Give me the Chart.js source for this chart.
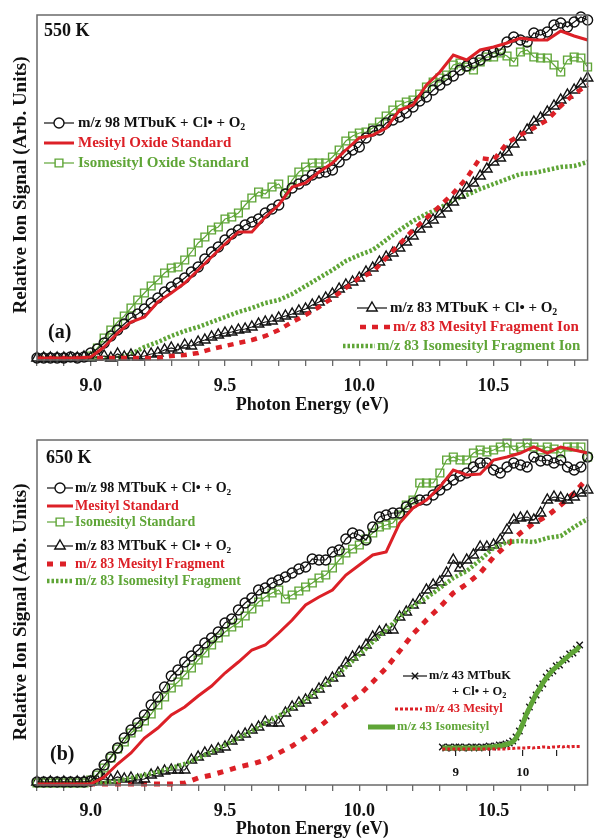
<!DOCTYPE html>
<html>
<head>
<meta charset="utf-8">
<script src="https://cdn.jsdelivr.net/npm/chart.js@4.4.1/dist/chart.umd.min.js"></script>
<style>
html, body { margin: 0; padding: 0; background: #fff; }
#page { position: relative; width: 595px; height: 840px; overflow: hidden; background: #fff; }
#page canvas { position: absolute; }
</style>
</head>
<body>
<div id="page">
  <canvas id="chartA" width="595" height="420" style="left:0;top:0;width:595px;height:420px"></canvas>
  <canvas id="chartB" width="595" height="420" style="left:0;top:420px;width:595px;height:420px"></canvas>
  <canvas id="chartInset" width="235" height="190" style="left:360px;top:600px;width:235px;height:190px"></canvas>
</div>
<script>
// ============================================================
//  DATA  (photon energy in eV, signal in arb. units)
// ============================================================
const energyFine = [
    8.800, 8.825, 8.850, 8.875, 8.900, 8.925, 8.950, 8.975,
    9.000, 9.025, 9.050, 9.075, 9.100, 9.125, 9.150, 9.175,
    9.200, 9.225, 9.250, 9.275, 9.300, 9.325, 9.350, 9.375,
    9.400, 9.425, 9.450, 9.475, 9.500, 9.525, 9.550, 9.575,
    9.600, 9.625, 9.650, 9.675, 9.700, 9.725, 9.750, 9.775,
    9.800, 9.825, 9.850, 9.875, 9.900, 9.925, 9.950, 9.975,
    10.000, 10.025, 10.050, 10.075, 10.100, 10.125, 10.150, 10.175,
    10.200, 10.225, 10.250, 10.275, 10.300, 10.325, 10.350, 10.375,
    10.400, 10.425, 10.450, 10.475, 10.500, 10.525, 10.550, 10.575,
    10.600, 10.625, 10.650, 10.675, 10.700, 10.725, 10.750, 10.775,
    10.800, 10.825, 10.850
];
const energyCoarse = [
    8.80, 8.85, 8.90, 8.95, 9.00, 9.05, 9.10, 9.15,
    9.20, 9.25, 9.30, 9.35, 9.40, 9.45, 9.50, 9.55,
    9.60, 9.65, 9.70, 9.75, 9.80, 9.85, 9.90, 9.95,
    10.00, 10.05, 10.10, 10.15, 10.20, 10.25, 10.30, 10.35,
    10.40, 10.45, 10.50, 10.55, 10.60, 10.65, 10.70, 10.75,
    10.80, 10.85
];

// --- (a) 550 K ---
const a98Mtbuk = [
    0.02, 0.02, 0.02, 0.02, 0.02, 0.03, 0.02, 0.03,
    0.07, 0.11, 0.17, 0.24, 0.30, 0.36, 0.42, 0.46,
    0.51, 0.57, 0.62, 0.68, 0.73, 0.77, 0.82, 0.88,
    0.93, 1.01, 1.08, 1.13, 1.20, 1.26, 1.30, 1.35,
    1.38, 1.41, 1.47, 1.51, 1.55, 1.66, 1.72, 1.76,
    1.80, 1.85, 1.87, 1.88, 1.90, 1.98, 2.05, 2.10,
    2.13, 2.22, 2.29, 2.30, 2.37, 2.40, 2.43, 2.47,
    2.53, 2.59, 2.63, 2.70, 2.75, 2.80, 2.84, 2.90,
    2.94, 2.97, 3.00, 3.05, 3.08, 3.10, 3.18, 3.23,
    3.20, 3.18, 3.27, 3.25, 3.28, 3.35, 3.37, 3.33,
    3.38, 3.43, 3.40
];
const aIsomesitylOxide = [
    null, null, null, null, null, null, null, null,
    0.04, 0.12, 0.22, 0.30, 0.38, 0.44, 0.52, 0.60,
    0.67, 0.74, 0.80, 0.87, 0.92, 0.93, 1.00, 1.08,
    1.17, 1.23, 1.30, 1.33, 1.41, 1.43, 1.47, 1.55,
    1.62, 1.68, 1.66, 1.73, 1.76, 1.67, 1.80, 1.88,
    1.93, 1.97, 1.97, 1.97, 2.03, 2.10, 2.19, 2.24,
    2.27, 2.28, 2.32, 2.38, 2.44, 2.50, 2.55, 2.58,
    2.60, 2.66, 2.73, 2.78, 2.82, 2.85, 2.95, 2.97,
    2.93, 2.90, 2.98, 3.03, 3.03, 3.07, 3.04, 2.98,
    3.08, 3.10, 3.03, 3.02, 3.02, 2.95, 2.88, 3.00,
    3.03, 3.02, 2.93
];
const a83Mtbuk = [
    0.02, 0.02, 0.02, 0.02, 0.02, 0.02, 0.02, 0.03,
    0.02, 0.03, 0.04, 0.02, 0.06, 0.03, 0.05, 0.03,
    0.04, 0.06, 0.07, 0.10, 0.12, 0.10, 0.15, 0.14,
    0.18, 0.20, 0.23, 0.25, 0.27, 0.28, 0.30, 0.31,
    0.33, 0.36, 0.38, 0.39, 0.42, 0.44, 0.46, 0.49,
    0.51, 0.55, 0.58, 0.62, 0.66, 0.71, 0.75, 0.78,
    0.82, 0.88, 0.92, 0.98, 1.03, 1.07, 1.12, 1.18,
    1.24, 1.31, 1.36, 1.40, 1.46, 1.52, 1.58, 1.65,
    1.72, 1.77, 1.84, 1.91, 1.98, 2.02, 2.08, 2.16,
    2.23, 2.30, 2.38, 2.42, 2.48, 2.54, 2.60, 2.65,
    2.70, 2.76, 2.82
];
const aMesitylOxide = [
    0.02, 0.02, 0.02, 0.02, 0.03, 0.13, 0.27, 0.38,
    0.43, 0.58, 0.67, 0.77, 0.90, 1.03, 1.16, 1.28,
    1.28, 1.43, 1.55, 1.73, 1.77, 1.88, 1.97, 2.10,
    2.22, 2.25, 2.32, 2.50, 2.55, 2.75, 2.88, 3.05,
    3.00, 3.10, 3.13, 3.17, 3.22, 3.20, 3.20, 3.29,
    3.24, 3.20
];
const a83Mesityl = [
    0.02, 0.02, 0.02, 0.02, 0.02, 0.02, 0.02, 0.02,
    0.02, 0.02, 0.04, 0.05, 0.07, 0.11, 0.14, 0.17,
    0.20, 0.24, 0.30, 0.38, 0.45, 0.53, 0.62, 0.72,
    0.82, 0.88, 1.02, 1.16, 1.30, 1.42, 1.54, 1.67,
    1.82, 2.02, 2.00, 2.17, 2.25, 2.32, 2.40, 2.54,
    2.66, 2.75
];
const a83Isomesityl = [
    0.02, 0.02, 0.02, 0.02, 0.02, 0.02, 0.02, 0.06,
    0.13, 0.18, 0.24, 0.29, 0.33, 0.38, 0.43, 0.48,
    0.52, 0.57, 0.60, 0.66, 0.74, 0.82, 0.90, 0.99,
    1.05, 1.10, 1.20, 1.30, 1.39, 1.46, 1.52, 1.60,
    1.65, 1.71, 1.76, 1.81, 1.86, 1.87, 1.90, 1.93,
    1.94, 1.98
];

// --- (b) 650 K ---
const b98Mtbuk = [
    0.03, 0.03, 0.03, 0.03, 0.03, 0.03, 0.03, 0.03,
    0.04, 0.11, 0.20, 0.28, 0.37, 0.47, 0.55, 0.62,
    0.70, 0.80, 0.88, 0.98, 1.09, 1.15, 1.23, 1.29,
    1.35, 1.42, 1.47, 1.53, 1.62, 1.66, 1.75, 1.82,
    1.87, 1.95, 1.97, 2.02, 2.05, 2.08, 2.12, 2.16,
    2.18, 2.26, 2.25, 2.25, 2.33, 2.35, 2.46, 2.52,
    2.50, 2.45, 2.58, 2.68, 2.70, 2.72, 2.72, 2.78,
    2.82, 2.85, 2.85, 2.90, 2.95, 3.00, 3.05, 3.09,
    3.12, 3.18, 3.22, 3.22, 3.15, 3.12, 3.18, 3.22,
    3.20, 3.18, 3.28, 3.24, 3.25, 3.22, 3.25, 3.18,
    3.15, 3.18, 3.28
];
const bIsomesityl = [
    0.02, 0.02, 0.02, 0.02, 0.02, 0.02, 0.02, 0.02,
    0.05, 0.10, 0.17, 0.27, 0.36, 0.43, 0.52, 0.58,
    0.64, 0.71, 0.80, 0.88, 0.97, 1.03, 1.10, 1.17,
    1.25, 1.32, 1.40, 1.47, 1.53, 1.58, 1.62, 1.69,
    1.76, 1.83, 1.88, 1.92, 1.95, 1.86, 1.90, 1.94,
    1.98, 2.02, 2.07, 2.10, 2.17, 2.25, 2.32, 2.36,
    2.40, 2.46, 2.52, 2.58, 2.60, 2.62, 2.70, 2.80,
    2.85, 3.02, 3.02, 3.02, 3.12, 3.25, 3.28, 3.25,
    3.25, 3.32, 3.35, 3.33, 3.35, 3.38, 3.42, 3.35,
    3.38, 3.42, 3.38, 3.35, 3.38, 3.36, 3.32, 3.38,
    3.38, 3.38, 3.28
];
const b83Mtbuk = [
    0.03, 0.02, 0.03, 0.02, 0.03, 0.02, 0.03, 0.03,
    0.03, 0.04, 0.06, 0.05, 0.08, 0.06, 0.07, 0.05,
    0.06, 0.10, 0.12, 0.14, 0.15, 0.15, 0.15, 0.25,
    0.28, 0.32, 0.34, 0.36, 0.38, 0.44, 0.48, 0.51,
    0.55, 0.58, 0.63, 0.62, 0.62, 0.72, 0.78, 0.82,
    0.85, 0.90, 0.96, 1.02, 1.07, 1.12, 1.22, 1.28,
    1.33, 1.40, 1.48, 1.53, 1.55, 1.55, 1.68, 1.73,
    1.80, 1.85, 1.95, 2.00, 2.03, 2.12, 2.25, 2.17,
    2.25, 2.30, 2.38, 2.38, 2.40, 2.45, 2.55, 2.65,
    2.67, 2.68, 2.65, 2.72, 2.85, 2.88, 2.87, 2.85,
    2.88, 2.92, 2.95
];
const bMesityl = [
    0.01, 0.01, 0.01, 0.01, 0.01, 0.08, 0.21, 0.32,
    0.47, 0.57, 0.70, 0.78, 0.89, 0.99, 1.12, 1.23,
    1.35, 1.40, 1.52, 1.65, 1.80, 1.88, 1.95, 2.10,
    2.20, 2.30, 2.33, 2.62, 2.77, 2.85, 2.98, 3.15,
    3.10, 3.11, 3.25, 3.28, 3.32, 3.38, 3.32, 3.38,
    3.35, 3.32
];
const b83Mesityl = [
    0.01, 0.01, 0.01, 0.01, 0.01, 0.01, 0.01, 0.01,
    0.01, 0.01, 0.01, 0.02, 0.07, 0.10, 0.14, 0.18,
    0.21, 0.25, 0.32, 0.39, 0.48, 0.58, 0.69, 0.80,
    0.90, 1.03, 1.17, 1.34, 1.51, 1.65, 1.78, 1.92,
    2.01, 2.12, 2.28, 2.40, 2.52, 2.62, 2.69, 2.80,
    2.92, 3.07
];
const b83Isomesityl = [
    0.02, 0.02, 0.02, 0.02, 0.02, 0.02, 0.04, 0.07,
    0.10, 0.13, 0.17, 0.21, 0.27, 0.33, 0.40, 0.47,
    0.54, 0.62, 0.69, 0.77, 0.85, 0.95, 1.06, 1.18,
    1.30, 1.43, 1.55, 1.68, 1.79, 1.87, 1.97, 2.07,
    2.14, 2.25, 2.37, 2.43, 2.44, 2.43, 2.47, 2.49,
    2.58, 2.66
];

// --- inset, m/z 43 at 650 K ---
const inset43Mtbuk = [
    0.03, 0.02, 0.03, 0.02, 0.03, 0.03, 0.02, 0.03,
    0.02, 0.03, 0.03, 0.02, 0.03, 0.03, 0.04, 0.03,
    0.04, 0.05, 0.05, 0.06, 0.07, 0.09, 0.13, 0.19,
    0.27, 0.34, 0.43, 0.50, 0.55, 0.62, 0.66, 0.73,
    0.77, 0.79, 0.84, 0.85, 0.90, 0.91, 0.96, 0.97,
    1.01, 1.05
];
const inset43Mesityl = [
    0.01, 0.01, 0.01, 0.01, 0.01, 0.01, 0.01, 0.01,
    0.01, 0.01, 0.01, 0.01, 0.01, 0.01, 0.01, 0.01,
    0.01, 0.01, 0.01, 0.01, 0.015, 0.015, 0.02, 0.02,
    0.02, 0.02, 0.025, 0.02, 0.025, 0.025, 0.03, 0.03,
    0.025, 0.03, 0.03, 0.035, 0.03, 0.04, 0.03, 0.035,
    0.035, 0.035
];
const inset43Isomesityl = [
    0.02, 0.02, 0.02, 0.02, 0.02, 0.02, 0.02, 0.02,
    0.02, 0.02, 0.02, 0.02, 0.02, 0.025, 0.03, 0.03,
    0.035, 0.04, 0.045, 0.055, 0.065, 0.08, 0.12, 0.18,
    0.26, 0.35, 0.42, 0.49, 0.56, 0.61, 0.67, 0.72,
    0.76, 0.80, 0.83, 0.86, 0.89, 0.92, 0.95, 0.98,
    1.00, 1.04
];

// ============================================================
//  STYLE
// ============================================================
const FONT  = '"Liberation Serif", "Times New Roman", serif';
const RED   = '#dc2027';
const GREEN = '#5fa537';
const BLACK = '#111111';
const FRAME = '#6a6a6a';

Chart.defaults.font.family = FONT;

function pts(xs, ys) {
    return xs.map(function (x, i) { return { x: x, y: ys[i] }; });
}

function markerSet(label, xs, ys, color, style, radius) {
    return {
        label: label, data: pts(xs, ys),
        borderColor: color, backgroundColor: 'rgba(0,0,0,0)', borderWidth: 1.2,
        pointStyle: style, pointRadius: radius, pointBorderColor: color,
        pointBorderWidth: 1.4, pointBackgroundColor: 'rgba(0,0,0,0)',
        tension: 0, clip: 8
    };
}

function lineSet(label, xs, ys, color, width, dash) {
    return {
        label: label, data: pts(xs, ys),
        borderColor: color, backgroundColor: color, borderWidth: width, borderDash: dash || [],
        borderCapStyle: 'butt', pointRadius: 0, tension: 0, clip: 8
    };
}

// ---------- drawing helpers for the decorations ----------
function drawRich(ctx, parts, x, y, size, color) {
    ctx.fillStyle = color;
    ctx.textAlign = 'left';
    ctx.textBaseline = 'middle';
    let cx = x;
    parts.forEach(function (p) {
        const sub = p.charAt(0) === '_';
        const t   = sub ? p.slice(1) : p;
        const fs  = sub ? size * 0.66 : size;
        ctx.font = 'bold ' + fs + 'px ' + FONT;
        ctx.fillText(t, cx, sub ? y + size * 0.3 : y);
        cx += ctx.measureText(t).width;
    });
}

function drawSample(ctx, ds, x1, x2, y) {
    ctx.save();
    ctx.strokeStyle = ds.borderColor;
    ctx.lineWidth   = ds.borderWidth;
    ctx.lineCap     = 'butt';
    ctx.setLineDash(ds.borderDash || []);
    ctx.beginPath(); ctx.moveTo(x1, y); ctx.lineTo(x2, y); ctx.stroke();
    ctx.setLineDash([]);
    if (ds.pointRadius) {
        ctx.fillStyle   = '#ffffff';
        ctx.strokeStyle = ds.pointBorderColor;
        ctx.lineWidth   = ds.pointBorderWidth;
        Chart.helpers.drawPoint(ctx, {
            pointStyle: ds.pointStyle, radius: ds.pointRadius,
            borderWidth: ds.pointBorderWidth, rotation: 0
        }, (x1 + x2) / 2, y);
    }
    ctx.restore();
}

function drawLegend(chart, rows, size) {
    const ctx = chart.ctx;
    rows.forEach(function (r) {
        if (r.ds) {
            const ds = chart.data.datasets.find(function (d) { return d.label === r.ds; });
            drawSample(ctx, ds, r.x1, r.x2, r.y);
        }
        drawRich(ctx, r.parts, r.tx, r.y, size, r.color);
    });
}

function panelDecor(cfg) {
    return {
        id: 'panelDecor',
        afterDraw: function (chart) {
            const ctx = chart.ctx;
            const a   = chart.chartArea;
            ctx.save();
            // frame
            ctx.strokeStyle = FRAME;
            ctx.lineWidth = 1.5;
            ctx.strokeRect(a.left, a.top, a.right - a.left, a.bottom - a.top);
            // y title
            ctx.save();
            ctx.translate(cfg.yTitle[0], cfg.yTitle[1]);
            ctx.rotate(-Math.PI / 2);
            ctx.fillStyle = BLACK;
            ctx.font = 'bold 19px ' + FONT;
            ctx.textAlign = 'center';
            ctx.textBaseline = 'middle';
            ctx.fillText('Relative Ion Signal (Arb. Units)', 0, 0);
            ctx.restore();
            // temperature and panel letter
            drawRich(ctx, [cfg.temp], cfg.tempPos[0], cfg.tempPos[1], 18, BLACK);
            drawRich(ctx, [cfg.letter], cfg.letterPos[0], cfg.letterPos[1], 20, BLACK);
            drawLegend(chart, cfg.legend, cfg.legendSize);
            ctx.restore();
        }
    };
}

function mainScales(xHeight, labelPad, titlePad) {
    return {
        x: {
            type: 'linear', min: 8.8, max: 10.85,
            border: { display: false },
            grid: { drawOnChartArea: false, drawTicks: true, tickLength: 6, color: FRAME, lineWidth: 1.3 },
            ticks: {
                stepSize: 0.1, includeBounds: false, autoSkip: false, maxRotation: 0,
                padding: labelPad, color: BLACK,
                font: { family: FONT, size: 18, weight: 'bold' },
                callback: function (v) { return Math.abs(v * 2 - Math.round(v * 2)) < 1e-6 ? v.toFixed(1) : ''; }
            },
            title: {
                display: true, text: 'Photon Energy (eV)', color: BLACK,
                font: { family: FONT, size: 18, weight: 'bold' },
                padding: { top: 0, bottom: titlePad }
            },
            afterFit: function (s) { s.height = xHeight; }
        },
        y: { display: false, min: 0, max: 3.45 }
    };
}

function baseOptions(pad, scales) {
    return {
        responsive: false, animation: false, devicePixelRatio: 1, events: [],
        layout: { padding: pad },
        plugins: { legend: { display: false }, tooltip: { enabled: false } },
        scales: scales
    };
}

const SUB2 = '_2';

// ============================================================
//  PANEL (a)  550 K
// ============================================================
new Chart(document.getElementById('chartA'), {
    type: 'line',
    data: {
        datasets: [
            lineSet('Mesityl Oxide Standard', energyCoarse, aMesitylOxide, RED, 3),
            markerSet('m/z 98 MTbuK + Cl + O2', energyFine, a98Mtbuk, BLACK, 'circle', 5),
            markerSet('Isomesityl Oxide Standard', energyFine, aIsomesitylOxide, GREEN, 'rect', 5.5),
            lineSet('m/z 83 Mesityl Fragment Ion', energyCoarse, a83Mesityl, RED, 4.5, [6, 6]),
            markerSet('m/z 83 MTbuK + Cl + O2', energyFine, a83Mtbuk, BLACK, 'triangle', 6),
            lineSet('m/z 83 Isomesityl Fragment Ion', energyCoarse, a83Isomesityl, GREEN, 4.5, [2.5, 2])
        ]
    },
    options: baseOptions({ left: 37, right: 2, top: 15, bottom: 0 }, mainScales(60, 10, 4)),
    plugins: [panelDecor({
        yTitle: [21, 185], temp: '550 K', tempPos: [44, 31], letter: '(a)', letterPos: [48, 333],
        legendSize: 15,
        legend: [
            { ds: 'm/z 98 MTbuK + Cl + O2', x1: 44, x2: 74, y: 123, tx: 78, color: BLACK, parts: ['m/z 98 MTbuK + Cl• + O', SUB2] },
            { ds: 'Mesityl Oxide Standard', x1: 44, x2: 74, y: 143, tx: 78, color: RED, parts: ['Mesityl Oxide Standard'] },
            { ds: 'Isomesityl Oxide Standard', x1: 44, x2: 74, y: 163, tx: 78, color: GREEN, parts: ['Isomesityl Oxide Standard'] },
            { ds: 'm/z 83 MTbuK + Cl + O2', x1: 357, x2: 387, y: 308, tx: 390, color: BLACK, parts: ['m/z 83 MTbuK + Cl• + O', SUB2] },
            { ds: 'm/z 83 Mesityl Fragment Ion', x1: 360, x2: 390, y: 327, tx: 393, color: RED, parts: ['m/z 83 Mesityl Fragment Ion'] },
            { ds: 'm/z 83 Isomesityl Fragment Ion', x1: 343, x2: 375, y: 346, tx: 377, color: GREEN, parts: ['m/z 83 Isomesityl Fragment Ion'] }
        ]
    })]
});

// ============================================================
//  PANEL (b)  650 K
// ============================================================
new Chart(document.getElementById('chartB'), {
    type: 'line',
    data: {
        datasets: [
            lineSet('Mesityl Standard', energyCoarse, bMesityl, RED, 3),
            markerSet('m/z 98 MTbuK + Cl + O2', energyFine, b98Mtbuk, BLACK, 'circle', 5),
            markerSet('Isomesityl Standard', energyFine, bIsomesityl, GREEN, 'rect', 5.5),
            lineSet('m/z 83 Isomesityl Fragment', energyCoarse, b83Isomesityl, GREEN, 4.5, [2.5, 2]),
            markerSet('m/z 83 MTbuK + Cl + O2', energyFine, b83Mtbuk, BLACK, 'triangle', 6),
            lineSet('m/z 83 Mesityl Fragment', energyCoarse, b83Mesityl, RED, 5, [6, 7])
        ]
    },
    options: baseOptions({ left: 37, right: 2, top: 20, bottom: 0 }, mainScales(55, 10, 0)),
    plugins: [panelDecor({
        yTitle: [21, 192], temp: '650 K', tempPos: [46, 38], letter: '(b)', letterPos: [50, 335],
        legendSize: 14,
        legend: [
            { ds: 'm/z 98 MTbuK + Cl + O2', x1: 47, x2: 73, y: 68, tx: 75, color: BLACK, parts: ['m/z 98 MTbuK + Cl• + O', SUB2] },
            { ds: 'Mesityl Standard', x1: 47, x2: 73, y: 86, tx: 75, color: RED, parts: ['Mesityl Standard'] },
            { ds: 'Isomesityl Standard', x1: 47, x2: 73, y: 102, tx: 75, color: GREEN, parts: ['Isomesityl Standard'] },
            { ds: 'm/z 83 MTbuK + Cl + O2', x1: 47, x2: 73, y: 126, tx: 75, color: BLACK, parts: ['m/z 83 MTbuK + Cl• + O', SUB2] },
            { ds: 'm/z 83 Mesityl Fragment', x1: 47, x2: 73, y: 144, tx: 75, color: RED, parts: ['m/z 83 Mesityl Fragment'] },
            { ds: 'm/z 83 Isomesityl Fragment', x1: 47, x2: 73, y: 161, tx: 75, color: GREEN, parts: ['m/z 83 Isomesityl Fragment'] }
        ]
    })]
});

// ============================================================
//  INSET  m/z 43
// ============================================================
const insetMtbuk = markerSet('m/z 43 MTbuK + Cl + O2', energyCoarse, inset43Mtbuk, BLACK, 'crossRot', 4.5);
insetMtbuk.pointBorderWidth = 1.4;

new Chart(document.getElementById('chartInset'), {
    type: 'line',
    data: {
        datasets: [
            lineSet('m/z 43 Mesityl', energyCoarse, inset43Mesityl, RED, 3, [3, 2]),
            lineSet('m/z 43 Isomesityl', energyCoarse, inset43Isomesityl, GREEN, 5),
            insetMtbuk
        ]
    },
    options: baseOptions({ left: 79, right: 12, top: 40, bottom: 0 }, {
        x: {
            type: 'linear', min: 8.75, max: 10.9,
            border: { display: false },
            grid: { drawOnChartArea: false, tickLength: 6, color: '#222222', lineWidth: 1.2 },
            ticks: {
                stepSize: 0.5, includeBounds: false, autoSkip: false, maxRotation: 0,
                padding: 9, color: BLACK,
                font: { family: FONT, size: 13, weight: 'bold' },
                callback: function (v) { return Math.abs(v - Math.round(v)) < 1e-6 ? String(Math.round(v)) : ''; }
            },
            afterFit: function (s) { s.height = 40; }
        },
        y: { display: false, min: 0, max: 1.10 }
    }),
    plugins: [{
        id: 'insetLegend',
        afterDraw: function (chart) {
            drawLegend(chart, [
                { ds: 'm/z 43 MTbuK + Cl + O2', x1: 43, x2: 67, y: 76, tx: 69, color: BLACK, parts: ['m/z 43 MTbuK'] },
                { ds: null, y: 92, tx: 92, color: BLACK, parts: ['+ Cl• + O', SUB2] },
                { ds: 'm/z 43 Mesityl', x1: 35, x2: 62, y: 109, tx: 65, color: RED, parts: ['m/z 43 Mesityl'] },
                { ds: 'm/z 43 Isomesityl', x1: 8, x2: 35, y: 127, tx: 37, color: GREEN, parts: ['m/z 43 Isomesityl'] }
            ], 12.5);
        }
    }]
});
</script>
</body>
</html>
